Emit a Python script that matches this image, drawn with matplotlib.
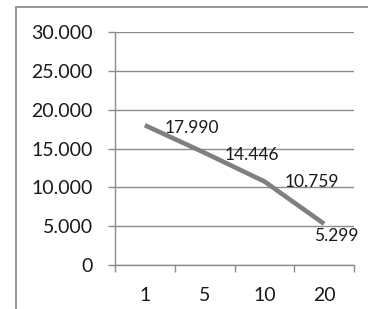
import matplotlib.pyplot as plt
from matplotlib.patches import Rectangle
from matplotlib.ticker import FuncFormatter

# chart values
categories = ['1', '5', '10', '20']
values = [17.990, 14.446, 10.759, 5.299]
y_ticks = [0, 5, 10, 15, 20, 25, 30]

# label offsets in pixels (dx, dy) relative to each point
label_offsets = [(20, -3), (20, -2), (20, -1), (-10, -12)]

plt.rcParams['font.family'] = ['Lato', 'DejaVu Sans']

fig = plt.figure(figsize=(3.68, 3.09), dpi=100)

# outer chart border (continues past right/bottom edge)
fig.patches.append(Rectangle((16 / 368, -0.1), 1.2, (309 - 7) / 309 + 0.1,
                             transform=fig.transFigure, fill=False,
                             edgecolor='#8c8c8c', linewidth=1.3))

ax = fig.add_axes([115 / 368, 44 / 309, 239 / 368, 233 / 309])
x = list(range(len(categories)))

ax.plot(x, values, color='#7f7f7f', linewidth=3.3, solid_capstyle='butt')

for xi, v, (dx, dy) in zip(x, values, label_offsets):
    ax.annotate(f'{v:.3f}', (xi, v), xytext=(dx * 0.72, dy * 0.72),
                textcoords='offset points', ha='left', va='center',
                fontsize=12.5, color='#1a1a1a')

ax.set_xlim(-0.5, len(categories) - 0.5)
ax.set_ylim(0, 30)
ax.set_yticks(y_ticks)
ax.yaxis.set_major_formatter(FuncFormatter(lambda v, p: '0' if v == 0 else f'{v:.3f}'))
ax.grid(axis='y', color='#8c8c8c', linewidth=1)
ax.set_axisbelow(True)

# x: tick marks on category boundaries, labels at centres
ax.set_xticks([i - 0.5 for i in range(len(categories) + 1)])
ax.set_xticklabels([])
ax.set_xticks(x, minor=True)
ax.set_xticklabels(categories, minor=True)
ax.tick_params(axis='x', which='major', length=5, width=1, color='#8c8c8c', direction='out')
ax.tick_params(axis='x', which='minor', length=0, pad=16, labelsize=14, labelcolor='#1a1a1a')
ax.tick_params(axis='y', length=5, width=1, color='#8c8c8c', pad=11, labelsize=14, labelcolor='#1a1a1a')

for side in ['top', 'right']:
    ax.spines[side].set_visible(False)
ax.spines['left'].set_color('#8c8c8c')
ax.spines['bottom'].set_color('#8c8c8c')
ax.spines['left'].set_linewidth(1)
ax.spines['bottom'].set_linewidth(1)

fig.savefig('out.png', dpi=100)
